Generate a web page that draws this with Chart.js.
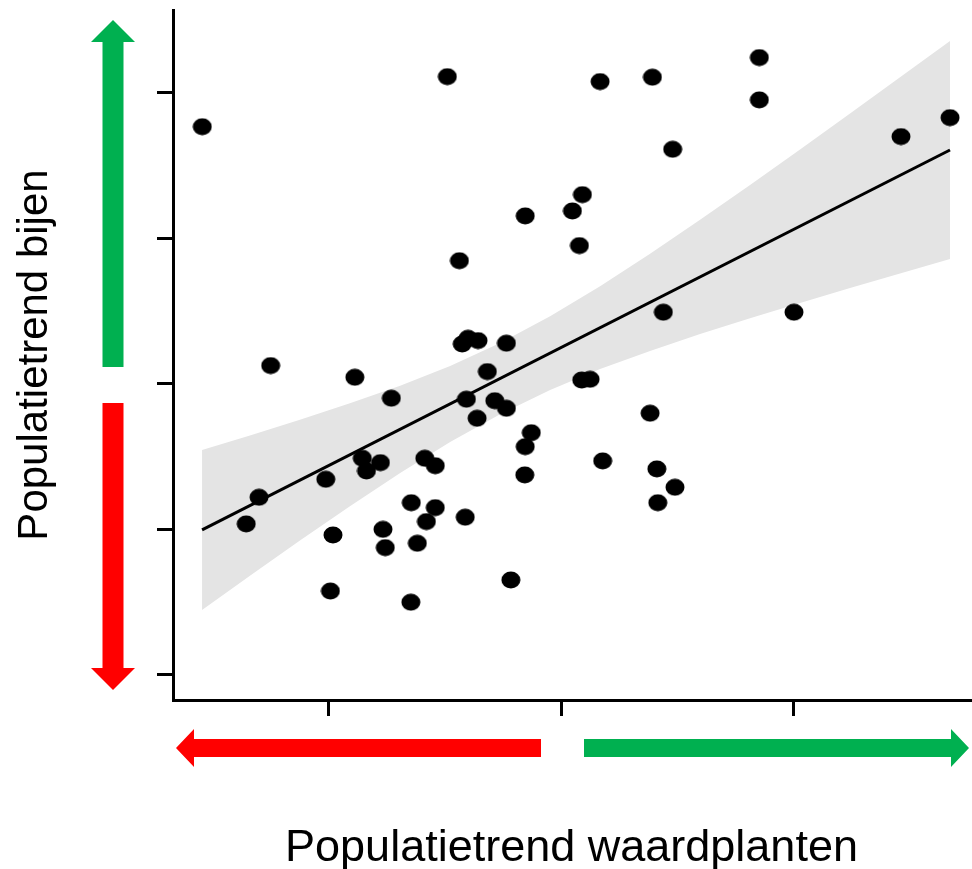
<!DOCTYPE html>
<html>
<head>
<meta charset="utf-8">
<script src="https://cdn.jsdelivr.net/npm/chart.js@4.4.1/dist/chart.umd.min.js"></script>
<style>
  html, body { margin: 0; padding: 0; background: #fff; overflow: hidden; }
  canvas { display: block; }
</style>
</head>
<body>
<canvas id="trendChart" width="972" height="869"></canvas>
<script>
// population trend of host plants (x) vs bees (y), one point per species
const plantTrend = [
  -1.543, -1.249, -1.299, -1.354, -1.012, -0.981, -0.992, -0.887, -0.855, -0.837,
  -0.777, -0.766, -0.756, -0.730, -0.644, -0.618, -0.646, -0.586, -0.541, -0.579,
  -0.541, -0.489, -0.437, -0.425, -0.400, -0.357, -0.407, -0.361, -0.317, -0.412,
  -0.285, -0.235, -0.235, -0.216, -0.154, -0.154, -0.128, -0.156, 0.049, 0.092,
  0.079, 0.089, 0.125, 0.168, 0.179, 0.393, 0.480, 0.440, 0.383, 0.412,
  0.416, 0.490, 0.853, 0.853, 1.002, 1.462, 1.673
];
const beeTrend = [
  1.768, 0.126, -0.779, -0.962, -0.655, -1.038, -1.423, 0.046, -0.511, -0.598,
  -0.541, -0.999, -1.125, -0.098, -0.816, -1.095, -1.500, -0.511, -0.562, -0.946,
  -0.850, 2.112, 0.847, 0.275, 0.314, 0.298, -0.105, -0.236, 0.085, -0.916,
  -0.115, -0.167, 0.280, -1.347, 1.155, -0.431, -0.335, -0.625, 1.189, 1.301,
  0.951, 0.027, 0.032, 2.078, -0.529, 2.108, 1.613, 0.493, -0.201, -0.584,
  -0.816, -0.710, 2.243, 1.952, 0.493, 1.700, 1.830
];

// fitted line and its confidence band
const fitX = [-1.544, 1.673];
const fitY = [-1.003, 1.608];
const bandX = [-1.544, -1.338, -1.123, -0.908, -0.692, -0.477, -0.262, -0.047,
               0.168, 0.383, 0.598, 0.813, 1.028, 1.243, 1.458, 1.673];
const bandUpper = [-0.454, -0.354, -0.246, -0.133, -0.012, 0.124, 0.282, 0.465,
                   0.671, 0.894, 1.128, 1.368, 1.612, 1.859, 2.108, 2.357];
const bandLower = [-1.553, -1.318, -1.076, -0.840, -0.612, -0.399, -0.208, -0.041,
                   0.102, 0.227, 0.343, 0.452, 0.557, 0.659, 0.759, 0.859];

const xTicks = [-1, 0, 1];
const yTicks = [-2, -1, 0, 1, 2];

const GREEN = "#00b050";
const RED = "#ff0000";

function pairs(xs, ys) {
  return xs.map((x, i) => ({ x: x, y: ys[i] }));
}

// slightly wide dots, like in the original figure
const dot = document.createElement("canvas");
dot.width = 20;
dot.height = 18;
const dctx = dot.getContext("2d");
dctx.fillStyle = "#000";
dctx.beginPath();
dctx.ellipse(10, 9, 9.5, 8.5, 0, 0, Math.PI * 2);
dctx.fill();

function arrow(ctx, x1, y1, x2, y2, shaft, head, headLen, color) {
  // arrow from (x1,y1) to tip at (x2,y2)
  const dx = x2 - x1, dy = y2 - y1;
  const len = Math.sqrt(dx * dx + dy * dy);
  ctx.save();
  ctx.translate(x1, y1);
  ctx.rotate(Math.atan2(dy, dx));
  ctx.fillStyle = color;
  ctx.beginPath();
  ctx.moveTo(0, -shaft / 2);
  ctx.lineTo(len - headLen, -shaft / 2);
  ctx.lineTo(len - headLen, -head / 2);
  ctx.lineTo(len, 0);
  ctx.lineTo(len - headLen, head / 2);
  ctx.lineTo(len - headLen, shaft / 2);
  ctx.lineTo(0, shaft / 2);
  ctx.closePath();
  ctx.fill();
  ctx.restore();
}

const arrowsPlugin = {
  id: "trendArrows",
  afterDraw(chart) {
    const ctx = chart.ctx;
    // along the y axis
    arrow(ctx, 113, 367, 113, 20, 21, 44, 22, GREEN);
    arrow(ctx, 113, 403, 113, 690, 21, 44, 22, RED);
    // along the x axis
    arrow(ctx, 541, 748, 176, 748, 18, 38, 18, RED);
    arrow(ctx, 584, 748, 969, 748, 18, 38, 18, GREEN);
  }
};

const ctx = document.getElementById("trendChart").getContext("2d");

new Chart(ctx, {
  type: "scatter",
  data: {
    datasets: [
      {
        type: "line",
        data: pairs(bandX, bandLower),
        borderWidth: 0,
        pointRadius: 0,
        fill: false,
        order: 3,
      },
      {
        type: "line",
        data: pairs(bandX, bandUpper),
        borderWidth: 0,
        pointRadius: 0,
        backgroundColor: "#e4e4e4",
        fill: "-1",
        order: 2,
      },
      {
        type: "line",
        data: pairs(fitX, fitY),
        borderColor: "#000",
        borderWidth: 3,
        pointRadius: 0,
        fill: false,
        order: 1,
      },
      {
        data: pairs(plantTrend, beeTrend),
        pointStyle: dot,
        pointRadius: 9,
        order: 0,
      },
    ],
  },
  options: {
    responsive: false,
    animation: false,
    layout: {
      autoPadding: false,
      padding: { top: 10, right: 2, left: 0, bottom: 0 },
    },
    plugins: {
      legend: { display: false },
      tooltip: { enabled: false },
    },
    scales: {
      x: {
        type: "linear",
        min: -1.669,
        max: 1.759,
        afterBuildTicks: (s) => { s.ticks = xTicks.map((v) => ({ value: v })); },
        afterFit: (s) => { s.height = 169; },
        ticks: { display: false },
        grid: {
          drawOnChartArea: false,
          drawTicks: true,
          tickLength: 16,
          color: "#000",
          lineWidth: 3,
        },
        border: { display: true, color: "#000", width: 3 },
        title: {
          display: true,
          text: "Populatietrend waardplanten",
          color: "#000",
          font: { family: "Liberation Sans, Arial, sans-serif", size: 45, lineHeight: 1 },
          padding: { top: 0, bottom: -2 },
        },
      },
      y: {
        type: "linear",
        min: -2.172,
        max: 2.57,
        afterBuildTicks: (s) => { s.ticks = yTicks.map((v) => ({ value: v })); },
        afterFit: (s) => { s.width = 173; },
        ticks: { display: false },
        grid: {
          drawOnChartArea: false,
          drawTicks: true,
          tickLength: 16,
          color: "#000",
          lineWidth: 3,
        },
        border: { display: true, color: "#000", width: 3 },
        title: {
          display: true,
          text: "Populatietrend bijen",
          color: "#000",
          font: { family: "Liberation Sans, Arial, sans-serif", size: 42, lineHeight: 1 },
          padding: { top: 14, bottom: 0 },
        },
      },
    },
  },
  plugins: [arrowsPlugin],
});
</script>
</body>
</html>
